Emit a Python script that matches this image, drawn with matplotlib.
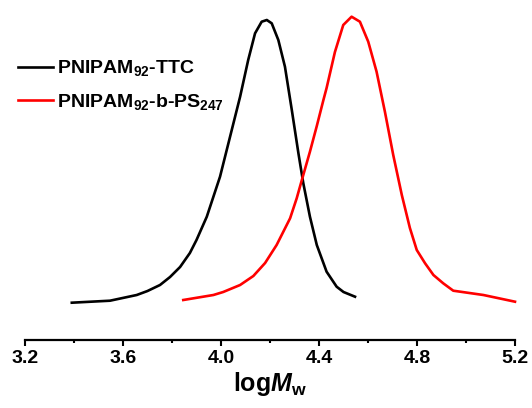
import matplotlib
matplotlib.use("Agg")
import matplotlib.pyplot as plt
from matplotlib.ticker import MultipleLocator

plt.rcParams['font.family'] = ['Liberation Sans', 'DejaVu Sans']
plt.rcParams['mathtext.fontset'] = 'custom'
plt.rcParams['mathtext.rm'] = 'Liberation Sans:bold'
plt.rcParams['mathtext.it'] = 'Liberation Sans:bold:italic'
plt.rcParams['mathtext.bf'] = 'Liberation Sans:bold'

# Data (logMw vs detector response, arbitrary units)
ttc_x = [3.391, 3.547, 3.656, 3.70, 3.751, 3.792, 3.833, 3.873, 3.90, 3.942,
         3.996, 4.037, 4.078, 4.111, 4.139, 4.166, 4.187, 4.207, 4.234, 4.261,
         4.289, 4.316, 4.336, 4.363, 4.391, 4.431, 4.472, 4.50, 4.547]
ttc_y = [37.3, 39.3, 45.0, 49.0, 55.0, 63.0, 73.0, 87.0, 100.0, 123.3,
         163.3, 203.3, 243.3, 280.0, 306.7, 318.3, 320.0, 316.7, 300.0, 273.3,
         230.0, 186.7, 156.7, 123.3, 95.0, 68.3, 53.3, 48.0, 43.3]

ps_x = [3.846, 3.969, 4.009, 4.078, 4.132, 4.18, 4.227, 4.282, 4.309, 4.33,
        4.363, 4.391, 4.418, 4.431, 4.465, 4.499, 4.533, 4.567, 4.601, 4.635,
        4.669, 4.703, 4.738, 4.771, 4.799, 4.833, 4.867, 4.907, 4.948, 5.071,
        5.2]
ps_y = [40.0, 45.0, 48.0, 55.0, 64.0, 77.0, 95.0, 121.7, 141.7, 160.0,
        188.3, 214.0, 240.0, 252.0, 288.0, 315.0, 323.3, 318.3, 298.3, 268.3,
        228.3, 185.0, 145.0, 112.0, 90.0, 76.7, 65.0, 56.7, 49.3, 45.0,
        38.3]

labels = [r'PNIPAM$_{92}$-TTC', r'PNIPAM$_{92}$-b-PS$_{247}$']
x_ticks = [3.2, 3.6, 4.0, 4.4, 4.8, 5.2]

W, H = 532, 408
fig = plt.figure(figsize=(W / 100, H / 100), dpi=100)
ax = fig.add_axes([25 / W, (H - 340) / H, 490 / W, 335 / H])

ax.plot(ttc_x, ttc_y, color='black', lw=1.9, label=labels[0],
        solid_joinstyle='round', clip_on=False)
ax.plot(ps_x, ps_y, color='red', lw=1.9, label=labels[1],
        solid_joinstyle='round', clip_on=False)

ax.set_xlim(3.2, 5.2)
ax.set_ylim(0, 335)
ax.set_xticks(x_ticks)
ax.set_xticklabels([f'{t:.1f}' for t in x_ticks])
ax.xaxis.set_minor_locator(MultipleLocator(0.2))
ax.set_yticks([])
for s in ['left', 'right', 'top']:
    ax.spines[s].set_visible(False)
ax.spines['bottom'].set_linewidth(1.6)
ax.tick_params(axis='x', which='major', direction='out', length=4.5, width=1.5,
               labelsize=14, pad=3)
ax.tick_params(axis='x', which='minor', direction='out', length=2.5, width=1.5)
for lab in ax.get_xticklabels():
    lab.set_fontweight('bold')
ax.set_xlabel(r'$\mathrm{log}\mathit{M}_{\mathrm{w}}$', fontsize=18, labelpad=2)

leg = ax.legend(loc='upper left', bbox_to_anchor=(0 / W, (H - 41) / H),
                bbox_transform=fig.transFigure, frameon=False,
                prop={'weight': 'bold', 'size': 14}, handlelength=1.8,
                handletextpad=0.25, labelspacing=0.7)
for line in leg.get_lines():
    line.set_linewidth(1.9)

fig.savefig('out.png', dpi=100, facecolor='white')
